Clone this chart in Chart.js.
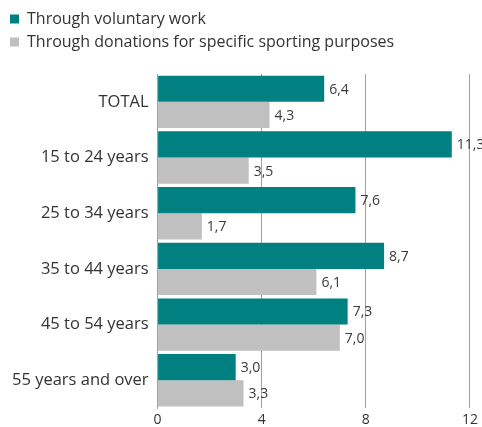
<!DOCTYPE html>
<html>
<head>
<meta charset="utf-8">
<script src="https://cdn.jsdelivr.net/npm/chart.js@4"></script>
<style>
  html, body { margin: 0; padding: 0; background: #fff; }
  #wrap { width: 482px; height: 427px; position: relative; }
</style>
</head>
<body>
<div id="wrap"><canvas id="chart1"></canvas></div>
<script>
// age groups and % of each group financing sport
const categories = ["TOTAL", "15 to 24 years", "25 to 34 years", "35 to 44 years", "45 to 54 years", "55 years and over"];
const voluntaryWork = [6.4, 11.3, 7.6, 8.7, 7.3, 3.0];
const donations = [4.3, 3.5, 1.7, 6.1, 7.0, 3.3];
const xTicks = [0, 4, 8, 12];

const TEAL = "#008080";
const GREY = "#c0c0c0";
const FONT = "'Open Sans', sans-serif";

// value labels drawn right of each bar, decimal comma
const valueLabels = {
    id: "valueLabels",
    afterDatasetsDraw(chart) {
        const c = chart.ctx;
        c.save();
        c.font = "14px " + FONT;
        c.fillStyle = "#3a3a3a";
        c.textBaseline = "middle";
        c.textAlign = "left";
        chart.data.datasets.forEach((ds, i) => {
            const meta = chart.getDatasetMeta(i);
            meta.data.forEach((bar, j) => {
                const txt = ds.data[j].toFixed(1).replace(".", ",");
                c.fillText(txt, bar.x + 5, bar.y + 1);
            });
        });
        c.restore();
    }
};

// extra space under the legend
const legendGap = {
    id: "legendGap",
    beforeInit(chart) {
        const fit = chart.legend.fit;
        chart.legend.fit = function () {
            fit.bind(chart.legend)();
            this.height += 14;
        };
    }
};

new Chart(document.getElementById("chart1"), {
    type: "bar",
    data: {
        labels: categories,
        datasets: [
            {
                label: "Through voluntary work",
                data: voluntaryWork,
                backgroundColor: TEAL
            },
            {
                label: "Through donations for specific sporting purposes",
                data: donations,
                backgroundColor: GREY
            }
        ]
    },
    options: {
        indexAxis: "y",
        responsive: true,
        maintainAspectRatio: false,
        animation: false,
        categoryPercentage: 0.94,
        barPercentage: 1,
        layout: {
            padding: { left: 3, right: 7, top: 4, bottom: -10 }
        },
        plugins: {
            tooltip: { enabled: false },
            legend: {
                position: "top",
                align: "start",
                labels: {
                    font: { family: FONT, size: 16 },
                    color: "#333",
                    boxWidth: 9,
                    boxHeight: 9,
                    padding: 7
                }
            }
        },
        scales: {
            x: {
                min: 0,
                max: 12,
                afterBuildTicks: axis => { axis.ticks = xTicks.map(v => ({ value: v })); },
                grid: { color: "#a0a0a0", drawTicks: false },
                border: { display: false },
                ticks: {
                    font: { family: FONT, size: 14 },
                    color: "#333",
                    padding: 4
                }
            },
            y: {
                grid: { display: false, drawTicks: false },
                border: { display: true, color: "#a0a0a0" },
                ticks: {
                    font: { family: FONT, size: 16.5 },
                    color: "#333",
                    padding: 9
                }
            }
        }
    },
    plugins: [valueLabels, legendGap]
});
</script>
</body>
</html>
